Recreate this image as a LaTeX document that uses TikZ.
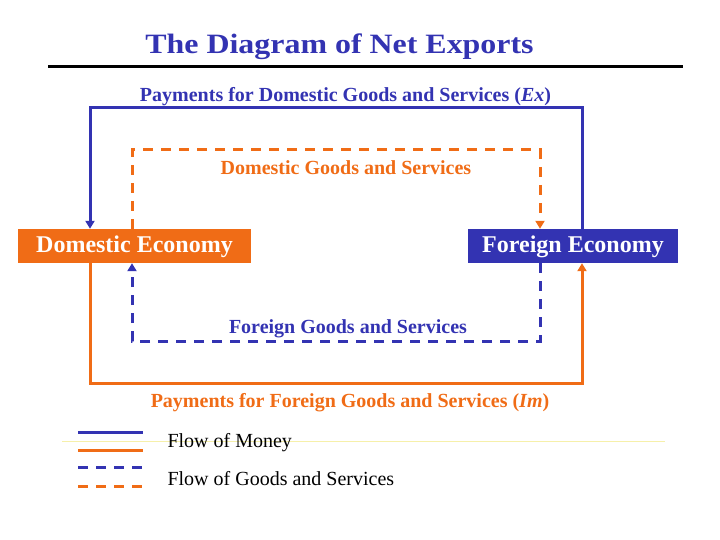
\documentclass[tikz,border=0pt]{standalone}
\usepackage{fontspec}
\setmainfont{Liberation Serif}
\newfontfamily\titlefont[FakeStretch=1.14]{Liberation Serif}
\usetikzlibrary{arrows.meta}
\definecolor{netblue}{RGB}{51,51,178}
\definecolor{netorange}{RGB}{240,108,22}
\definecolor{paleyellow}{RGB}{246,240,170}
\begin{document}
\begin{tikzpicture}[x=1pt,y=-1pt,
  money/.style={line width=3pt},
  goods/.style={line width=3pt,dash pattern=on 10pt off 8pt},
  tip/.style={-{Triangle[length=8pt,width=9pt]}},
  econ/.style={inner sep=0pt,text height=23pt,text depth=11pt,text=white,font=\fontsize{24}{28}\selectfont\bfseries},
  flowlabel/.style={font=\fontsize{20}{24}\selectfont\bfseries},
  legend/.style={anchor=west,font=\fontsize{20}{24}\selectfont}]
\useasboundingbox (0,0) rectangle (720,540);
% title
\node[font=\titlefont\fontsize{28}{32}\selectfont\bfseries,text=netblue] (title) at (339.5,47) {The Diagram of Net Exports};
\draw[line width=3pt] (48,67) -- (683,67);
% the two economies
\node[econ,fill=netorange,minimum width=233pt] (dom) at (134.5,246) {Domestic Economy};
\node[econ,fill=netblue,minimum width=210pt] (for) at (573,246) {Foreign Economy};
% flows
\draw[money,netblue,tip] ([xshift=9pt]for.north) -- ++(0,-121) -| ([xshift=-44.5pt]dom.north);
\draw[goods,netorange,tip] ([xshift=-2.5pt]dom.north) -- ++(0,-79) -| ([xshift=-33pt]for.north);
\draw[goods,netblue,tip] ([xshift=-33pt]for.south) -- ++(0,78) -| ([xshift=-2.5pt]dom.south);
\draw[money,netorange,tip] ([xshift=-44.5pt]dom.south) -- ++(0,120) -| ([xshift=9pt]for.south);
\node[flowlabel,text=netblue] (exlab) at (345.5,97) {Payments for Domestic Goods and Services (\textit{Ex})};
\node[flowlabel,text=netorange] (dglab) at (346,168) {Domestic Goods and Services};
\node[flowlabel,text=netblue] (fglab) at (348,329) {Foreign Goods and Services};
\node[flowlabel,text=netorange] (imlab) at (350,403) {Payments for Foreign Goods and Services (\textit{Im})};
% legend
\draw[paleyellow,line width=1pt] (62,441) -- (665,441);
\coordinate (l1) at (78,432);
\coordinate (l2) at (78,450);
\coordinate (l3) at (78,467);
\coordinate (l4) at (78,486);
\draw[money,netblue] (l1) -- ++(65,0);
\draw[money,netorange] (l2) -- ++(65,0);
\draw[goods,netblue] (l3) -- ++(65,0);
\draw[goods,netorange] (l4) -- ++(65,0);
\node[legend] (moneytxt) at (164,443) {Flow of Money};
\node[legend] (goodstxt) at (164,479) {Flow of Goods and Services};
\end{tikzpicture}
\end{document}
